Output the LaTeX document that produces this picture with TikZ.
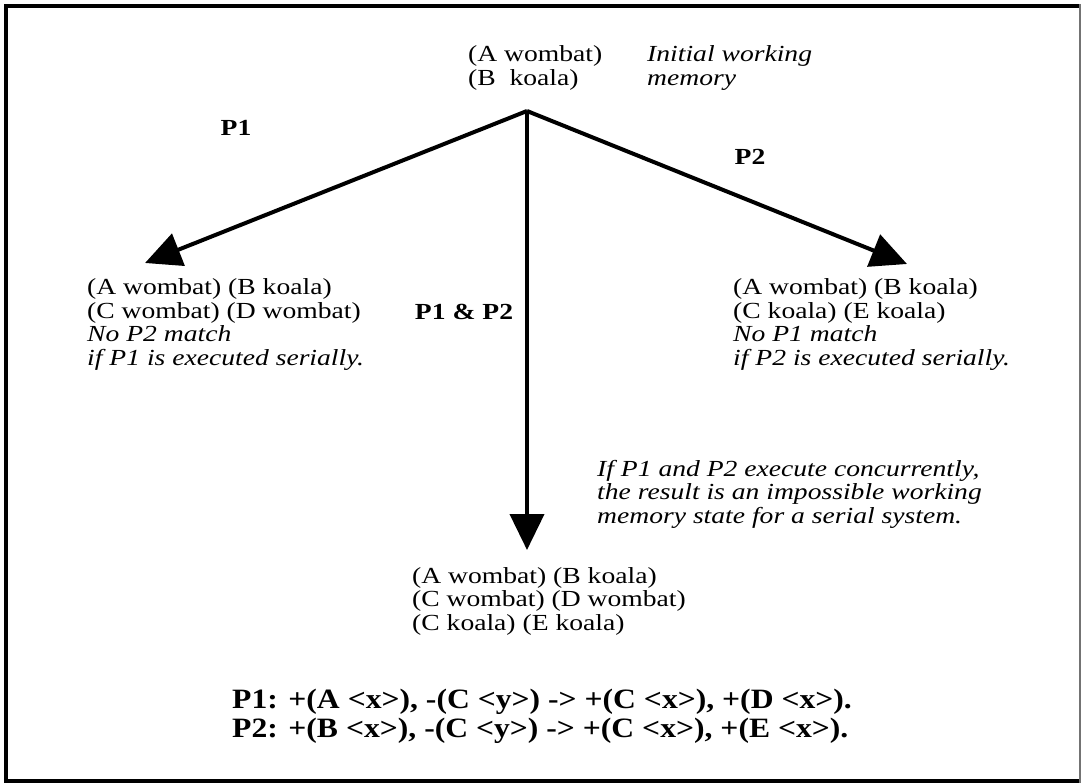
\documentclass[tikz,border=0pt]{standalone}
\usepackage{fontspec}
\setmainfont{Liberation Serif}[FakeStretch=1.2]
\newfontfamily\prodfont{Liberation Serif}[FakeStretch=1.13]
\usetikzlibrary{arrows.meta}
\newcommand{\txtblock}[1]{\begin{tabular}[t]{@{}l@{}}#1\end{tabular}}
\tikzset{
  body/.style={anchor=base west, inner sep=0pt, font=\fontsize{23}{23.5}\selectfont},
  note/.style={body, font=\fontsize{23}{23.5}\selectfont\itshape},
  tag/.style={inner sep=0pt, font=\fontsize{23}{23.5}\selectfont\bfseries},
  rule/.style={anchor=base west, inner sep=0pt, font=\prodfont\fontsize{28}{29}\selectfont\bfseries},
  flow/.style={line width=4pt, -{Triangle[length=36pt,width=34pt]}},
}
\begin{document}
\begin{tikzpicture}[x=1pt,y=-1pt]
\useasboundingbox (0,0) rectangle (1081,783);
% frame: heavy on three sides, hairline on the right
\draw[line width=4pt, line cap=rect] (1080,6) -- (6,6) -- (6,780.5) -- (1080,780.5);
\draw[line width=1.5pt, black!55] (1080.2,4) -- (1080.2,783);

% initial working memory
\node[body] (wm0) at (468,62) {\txtblock{(A wombat)\\(B\ \ koala)}};
\node[note] (wm0note) at (647,62) {\txtblock{Initial working\\memory}};

% branches
\coordinate (apex) at (527,111);
\coordinate (tipL) at (145,263);
\coordinate (tipR) at (907,264);
\coordinate (tipM) at (527,550);
\draw[flow] (apex) -- (tipL);
\draw[flow] (apex) -- (tipR);
\draw[flow] (apex) -- (tipM);

\node[tag] (lblP1) at (236,128) {P1};
\node[tag] (lblP2) at (750,157) {P2};
\node[tag] (lblP12) at (464,312) {P1 \& P2};

% resulting memories
\node[body] (wmL) at (87,295) {\txtblock{(A wombat) (B koala)\\(C wombat) (D wombat)\\\itshape No P2 match\\\itshape if P1 is executed serially.}};
\node[body] (wmR) at (733,295) {\txtblock{(A wombat) (B koala)\\(C koala) (E koala)\\\itshape No P1 match\\\itshape if P2 is executed serially.}};
\node[note] (conc) at (597,476) {\txtblock{If P1 and P2 execute concurrently,\\the result is an impossible working\\memory state for a serial system.}};
\node[body] (wmM) at (412,583) {\txtblock{(A wombat) (B koala)\\(C wombat) (D wombat)\\(C koala) (E koala)}};

% productions
\node[rule] (prods) at (232,708) {\txtblock{P1: +(A <x>), -(C <y>) -> +(C <x>), +(D <x>).\\P2: +(B <x>), -(C <y>) -> +(C <x>), +(E <x>).}};
\end{tikzpicture}
\end{document}
